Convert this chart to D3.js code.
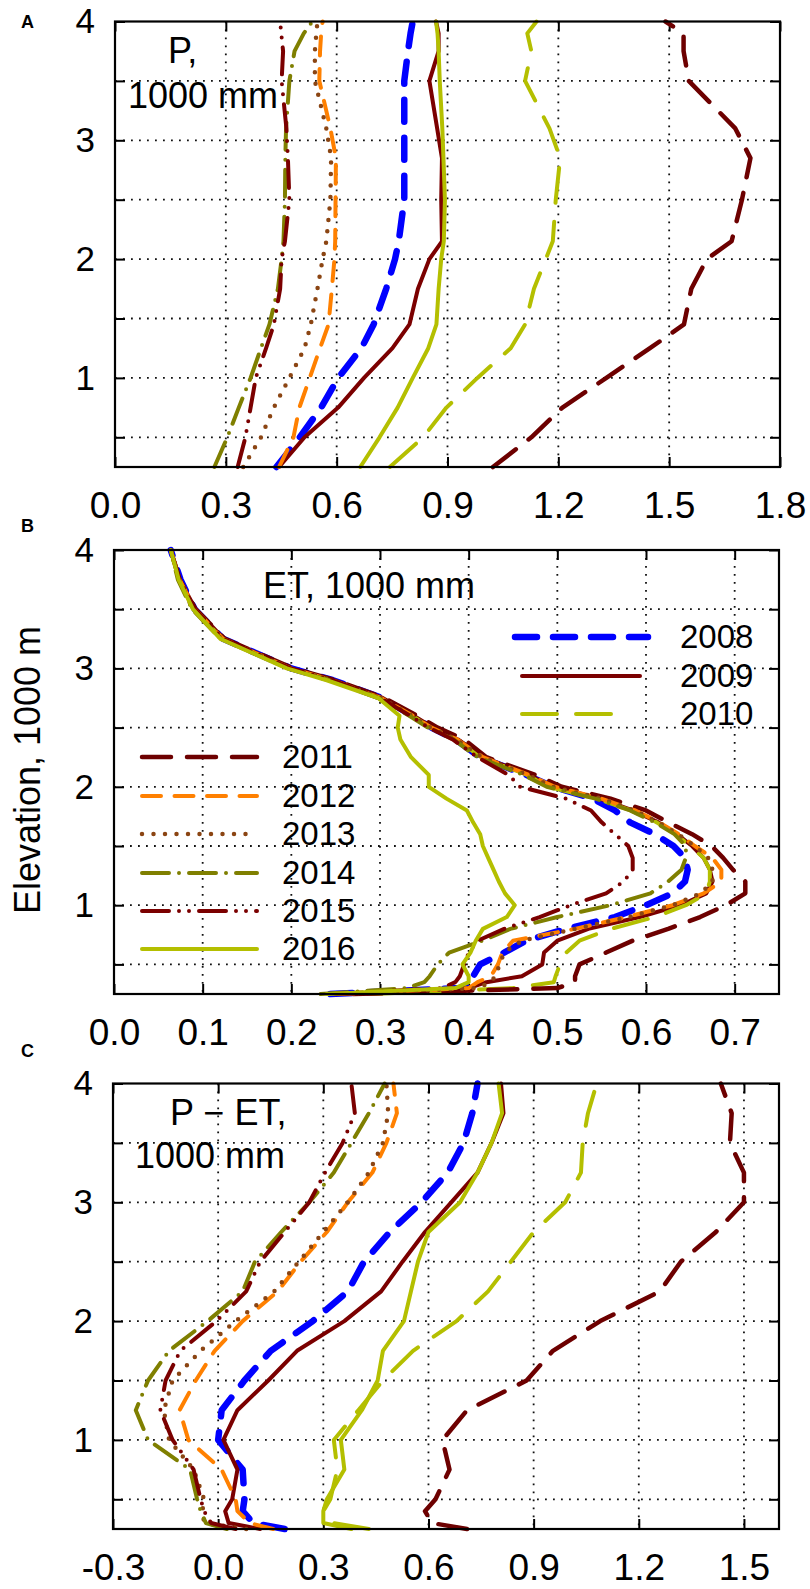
<!DOCTYPE html>
<html>
<head>
<meta charset="utf-8">
<script src="https://cdn.jsdelivr.net/npm/d3@7"></script>
<style>
    body { margin: 0; background: #fff; }
    svg { display: block; }
</style>
</head>
<body>
<div id="chart"></div>
<script>

// ---- data (x in 1000 mm, elevation in 1000 m) ----
const years = ["2008", "2009", "2010", "2011", "2012", "2013", "2014", "2015", "2016"];

// panel A : precipitation
const elevP = [0.25, 0.5, 0.75, 1.0, 1.25, 1.45, 1.75, 2.0, 2.15, 2.5, 2.85, 3.1, 3.5, 3.75, 3.9, 4.0];
const P_2008 = [0.437, 0.500, 0.558, 0.604, 0.667, 0.700, 0.734, 0.758, 0.768, 0.783, 0.783, 0.783, 0.783, 0.793, 0.800, 0.806];
const P_2009 = [0.444, 0.513, 0.604, 0.674, 0.751, 0.797, 0.820, 0.851, 0.885, 0.883, 0.885, 0.872, 0.851, 0.876, 0.876, 0.869];
const P_2010 = [0.744, 0.834, 0.897, 0.981, 1.071, 1.110, 1.134, 1.166, 1.185, 1.193, 1.205, 1.176, 1.110, 1.127, 1.116, 1.141];
const P_2011 = [1.023, 1.127, 1.211, 1.330, 1.448, 1.540, 1.560, 1.602, 1.669, 1.697, 1.720, 1.679, 1.553, 1.539, 1.539, 1.490];
const P_2012 = [0.444, 0.483, 0.499, 0.527, 0.555, 0.578, 0.587, 0.594, 0.596, 0.597, 0.598, 0.583, 0.553, 0.555, 0.558, 0.562];
const P_2013 = [0.347, 0.395, 0.430, 0.472, 0.513, 0.530, 0.548, 0.562, 0.572, 0.583, 0.585, 0.572, 0.541, 0.541, 0.545, 0.548];
const P_2014 = [0.269, 0.304, 0.335, 0.367, 0.395, 0.418, 0.441, 0.451, 0.456, 0.460, 0.461, 0.463, 0.472, 0.486, 0.511, 0.534];
const P_2015 = [0.332, 0.353, 0.367, 0.381, 0.409, 0.430, 0.447, 0.451, 0.460, 0.472, 0.468, 0.464, 0.451, 0.455, 0.450, 0.447];
const P_2016 = [0.664, 0.716, 0.765, 0.806, 0.848, 0.870, 0.876, 0.883, 0.890, 0.893, 0.889, 0.886, 0.879, 0.876, 0.873, 0.869];

// panel B : evapotranspiration
const elevET = [0.25, 0.3, 0.35, 0.4, 0.5, 0.6, 0.7, 0.8, 0.9, 1.0, 1.1, 1.2, 1.3, 1.4, 1.5, 1.6,
                1.7, 1.8, 1.9, 2.0, 2.1, 2.25, 2.4, 2.5, 2.6, 2.75, 2.9, 3.0, 3.25, 3.5, 3.75, 4.0];
const ET_2008 = [0.244, 0.390, 0.405, 0.405, 0.413, 0.440, 0.465, 0.510, 0.565, 0.600, 0.630, 0.644, 0.647, 0.644, 0.631, 0.610,
                 0.582, 0.565, 0.540, 0.495, 0.465, 0.413, 0.385, 0.358, 0.337, 0.302, 0.247, 0.200, 0.123, 0.091, 0.075, 0.064];
const ET_2009 = [0.260, 0.400, 0.420, 0.460, 0.483, 0.485, 0.500, 0.535, 0.593, 0.639, 0.668, 0.675, 0.672, 0.665, 0.652, 0.635,
                 0.614, 0.585, 0.548, 0.495, 0.468, 0.416, 0.388, 0.360, 0.338, 0.303, 0.248, 0.200, 0.124, 0.092, 0.074, 0.064];
const ET_2010 = [0.290, 0.450, 0.496, 0.498, 0.503, 0.510, 0.525, 0.560, 0.610, 0.645, 0.668, 0.672, 0.672, 0.665, 0.650, 0.633,
                 0.612, 0.583, 0.545, 0.490, 0.466, 0.414, 0.386, 0.357, 0.336, 0.300, 0.245, 0.198, 0.122, 0.090, 0.073, 0.064];
const ET_2011 = [0.270, 0.500, 0.520, 0.520, 0.525, 0.555, 0.585, 0.625, 0.661, 0.690, 0.712, 0.712, 0.698, 0.687, 0.674, 0.652,
                 0.625, 0.600, 0.560, 0.505, 0.475, 0.420, 0.395, 0.365, 0.342, 0.305, 0.250, 0.202, 0.125, 0.092, 0.074, 0.064];
const ET_2012 = [0.250, 0.400, 0.410, 0.425, 0.433, 0.438, 0.450, 0.520, 0.578, 0.630, 0.665, 0.685, 0.685, 0.675, 0.655, 0.637,
                 0.615, 0.588, 0.550, 0.497, 0.468, 0.416, 0.387, 0.358, 0.337, 0.301, 0.246, 0.199, 0.123, 0.091, 0.074, 0.064];
const ET_2013 = [0.250, 0.410, 0.425, 0.430, 0.435, 0.440, 0.460, 0.520, 0.580, 0.630, 0.662, 0.675, 0.675, 0.670, 0.655, 0.636,
                 0.614, 0.587, 0.550, 0.495, 0.467, 0.415, 0.386, 0.357, 0.336, 0.301, 0.246, 0.198, 0.121, 0.089, 0.073, 0.064];
const ET_2014 = [0.233, 0.330, 0.350, 0.356, 0.365, 0.378, 0.415, 0.447, 0.500, 0.560, 0.605, 0.625, 0.640, 0.645, 0.645, 0.632,
                 0.610, 0.582, 0.543, 0.488, 0.462, 0.410, 0.383, 0.354, 0.333, 0.298, 0.243, 0.196, 0.120, 0.088, 0.072, 0.064];
const ET_2015 = [0.250, 0.370, 0.385, 0.390, 0.395, 0.400, 0.410, 0.440, 0.480, 0.515, 0.555, 0.575, 0.585, 0.585, 0.580, 0.565,
                 0.550, 0.538, 0.510, 0.458, 0.445, 0.410, 0.382, 0.355, 0.334, 0.300, 0.246, 0.199, 0.123, 0.091, 0.074, 0.064];
const ET_2016 = [0.240, 0.385, 0.400, 0.400, 0.393, 0.402, 0.408, 0.416, 0.443, 0.452, 0.441, 0.434, 0.428, 0.422, 0.416, 0.413,
                 0.405, 0.398, 0.375, 0.355, 0.355, 0.335, 0.323, 0.320, 0.322, 0.298, 0.240, 0.195, 0.120, 0.089, 0.073, 0.064];

// panel C : P - ET
const elevPET = [0.25, 0.3, 0.4, 0.5, 0.75, 1.0, 1.25, 1.5, 1.75, 2.0, 2.25, 2.5, 2.75, 3.0, 3.25, 3.5, 3.75, 4.0];
const PET_2008 = [0.190, 0.100, 0.070, 0.075, 0.070, 0.000, 0.010, 0.075, 0.150, 0.270, 0.370, 0.416, 0.490, 0.580, 0.655, 0.700, 0.725, 0.740];
const PET_2009 = [0.120, 0.030, 0.020, 0.040, 0.055, 0.015, 0.055, 0.143, 0.225, 0.360, 0.465, 0.526, 0.590, 0.665, 0.740, 0.780, 0.814, 0.807];
const PET_2010 = [0.430, 0.330, 0.300, 0.320, 0.340, 0.330, 0.400, 0.470, 0.556, 0.680, 0.770, 0.835, 0.900, 0.990, 1.035, 1.040, 1.055, 1.080];
const PET_2011 = [0.710, 0.610, 0.590, 0.620, 0.660, 0.640, 0.710, 0.880, 0.955, 1.090, 1.260, 1.320, 1.420, 1.500, 1.500, 1.460, 1.465, 1.434];
const PET_2012 = [0.157, 0.090, 0.055, 0.050, 0.010, -0.085, -0.110, -0.064, -0.010, 0.070, 0.170, 0.235, 0.310, 0.370, 0.440, 0.480, 0.510, 0.500];
const PET_2013 = [0.080, -0.040, -0.045, -0.040, -0.070, -0.140, -0.155, -0.130, -0.050, 0.050, 0.160, 0.230, 0.300, 0.370, 0.430, 0.470, 0.485, 0.480];
const PET_2014 = [0.025, -0.035, -0.050, -0.060, -0.080, -0.200, -0.235, -0.200, -0.140, -0.030, 0.070, 0.105, 0.180, 0.260, 0.330, 0.380, 0.430, 0.475];
const PET_2015 = [0.050, -0.020, -0.040, -0.050, -0.070, -0.130, -0.165, -0.150, -0.108, -0.005, 0.080, 0.120, 0.190, 0.260, 0.305, 0.355, 0.390, 0.380];
const PET_2016 = [0.380, 0.300, 0.300, 0.310, 0.360, 0.350, 0.410, 0.455, 0.470, 0.530, 0.550, 0.570, 0.600, 0.690, 0.740, 0.780, 0.810, 0.800];

// ticks
const xTicksP = [0.0, 0.3, 0.6, 0.9, 1.2, 1.5, 1.8];
const xTicksET = [0.0, 0.1, 0.2, 0.3, 0.4, 0.5, 0.6, 0.7];
const xTicksPET = [-0.3, 0.0, 0.3, 0.6, 0.9, 1.2, 1.5];
const elevTicks = [0.5, 1, 1.5, 2, 2.5, 3, 3.5, 4];


/* * * * * * * * * * * * * *
*      styles / layout      *
* * * * * * * * * * * * * */

const FONT = "'Liberation Sans', Arial, Helvetica, sans-serif";

// line look per year (dash arrays are with round caps)
const styles = {
    "2008": {color: "#0000ff", width: 6.5, dash: "22,16"},
    "2009": {color: "#7b0000", width: 4,   dash: null},
    "2010": {color: "#b4bf00", width: 4,   dash: "35,19"},
    "2011": {color: "#6d0000", width: 4.5, dash: "29,16"},
    "2012": {color: "#ff8000", width: 4,   dash: "19,13.5"},
    "2013": {color: "#8b4513", width: 4.5, dash: "0,11.5"},
    "2014": {color: "#7f7f00", width: 4,   dash: "27,10,0,10"},
    "2015": {color: "#7b0000", width: 4,   dash: "27,10,0,10,0,10"},
    "2016": {color: "#b4bf00", width: 4,   dash: null}
};

let svg = d3.select("#chart").append("svg")
    .attr("width", 810)
    .attr("height", 1589)
    .attr("font-family", FONT);


class PanelVis {
    constructor(svg, cfg) {
        this.svg = svg;
        Object.assign(this, cfg);
        this.initVis();
    }

    initVis() {
        let vis = this;

        vis.g = vis.svg.append("g");

        // Scales
        vis.x = d3.scaleLinear().domain(vis.xDomain).range([vis.left, vis.right]);
        vis.y = d3.scaleLinear().domain([0.25, 4]).range([vis.bottom, vis.top]);

        // dotted grid
        let grid = vis.g.append("g")
            .attr("stroke", "#111")
            .attr("stroke-width", 1.8)
            .attr("stroke-dasharray", "1.8,6.2");

        grid.selectAll(".hgrid")
            .data(elevTicks.filter(d => d < 4))
            .join("line")
            .attr("class", "hgrid")
            .attr("x1", vis.left)
            .attr("x2", vis.right)
            .attr("y1", d => vis.y(d))
            .attr("y2", d => vis.y(d));

        grid.selectAll(".vgrid")
            .data(vis.xTicks.filter(d => d > vis.xDomain[0] + 1e-9 && d < vis.xDomain[1] - 1e-9))
            .join("line")
            .attr("class", "vgrid")
            .attr("x1", d => vis.x(d))
            .attr("x2", d => vis.x(d))
            .attr("y1", vis.top)
            .attr("y2", vis.bottom);

        // axes (inner ticks on all four sides)
        let fmt = d => d.toFixed(1);

        vis.g.append("g")
            .attr("transform", `translate(0, ${vis.bottom})`)
            .call(d3.axisBottom(vis.x).tickValues(vis.xTicks).tickFormat(fmt).tickSize(-10).tickPadding(25))
            .call(styleAxis)
            .attr("font-size", 37);

        vis.g.append("g")
            .attr("transform", `translate(0, ${vis.top})`)
            .call(d3.axisTop(vis.x).tickValues(vis.xTicks).tickFormat("").tickSize(-10))
            .call(styleAxis);

        vis.g.append("g")
            .attr("transform", `translate(${vis.left}, 0)`)
            .call(d3.axisLeft(vis.y).tickValues(elevTicks)
                .tickFormat(d => Number.isInteger(d) ? d : "").tickSize(-10).tickPadding(20))
            .call(styleAxis);

        vis.g.append("g")
            .attr("transform", `translate(${vis.right}, 0)`)
            .call(d3.axisRight(vis.y).tickValues(elevTicks).tickFormat("").tickSize(-10))
            .call(styleAxis);

        // curves
        vis.line = d3.line()
            .x(d => vis.x(d[1]))
            .y(d => vis.y(d[0]));

        vis.series.forEach((vals, i) => {
            let st = styles[years[i]];
            let pts = vis.elev.map((e, j) => [e, vals[j]]);
            vis.g.append("path")
                .datum(pts)
                .attr("d", vis.line)
                .attr("fill", "none")
                .attr("stroke", st.color)
                .attr("stroke-width", st.width)
                .attr("stroke-linecap", "round")
                .attr("stroke-linejoin", "round")
                .attr("stroke-dasharray", st.dash);
        });

        // frame
        vis.g.append("rect")
            .attr("x", vis.left)
            .attr("y", vis.top)
            .attr("width", vis.right - vis.left)
            .attr("height", vis.bottom - vis.top)
            .attr("fill", "none")
            .attr("stroke", "#000")
            .attr("stroke-width", 2.2);

        // panel letter
        vis.svg.append("text")
            .attr("x", 21)
            .attr("y", vis.letterY)
            .attr("font-size", 18)
            .attr("font-weight", "bold")
            .text(vis.letter);

        // in-plot title
        vis.title.forEach(t => {
            vis.svg.append("text")
                .attr("x", t.x)
                .attr("y", t.y)
                .attr("font-size", 36)
                .text(t.text);
        });
    }
}

function styleAxis(g) {
    g.select(".domain").remove();
    g.attr("font-family", FONT).attr("font-size", 35);
    g.selectAll(".tick line").attr("stroke", "#000").attr("stroke-width", 2);
    g.selectAll(".tick text").attr("fill", "#000");
}


new PanelVis(svg, {
    letter: "A", letterY: 28,
    left: 115, right: 780, top: 21.5, bottom: 467,
    xDomain: [0, 1.8], xTicks: xTicksP,
    elev: elevP,
    series: [P_2008, P_2009, P_2010, P_2011, P_2012, P_2013, P_2014, P_2015, P_2016],
    title: [{text: "P,", x: 168, y: 63}, {text: "1000 mm", x: 128, y: 108}]
});

new PanelVis(svg, {
    letter: "B", letterY: 532,
    left: 114, right: 779, top: 550, bottom: 994,
    xDomain: [0, 0.75], xTicks: xTicksET,
    elev: elevET,
    series: [ET_2008, ET_2009, ET_2010, ET_2011, ET_2012, ET_2013, ET_2014, ET_2015, ET_2016],
    title: [{text: "ET, 1000 mm", x: 263, y: 598}]
});

new PanelVis(svg, {
    letter: "C", letterY: 1057,
    left: 113, right: 779, top: 1083.5, bottom: 1529,
    xDomain: [-0.3, 1.6], xTicks: xTicksPET,
    elev: elevPET,
    series: [PET_2008, PET_2009, PET_2010, PET_2011, PET_2012, PET_2013, PET_2014, PET_2015, PET_2016],
    title: [{text: "P \u2212 ET,", x: 170, y: 1125}, {text: "1000 mm", x: 135, y: 1168}]
});

// y axis title (shared, sits beside panel B)
svg.append("text")
    .attr("transform", "translate(40, 770) rotate(-90)")
    .attr("text-anchor", "middle")
    .attr("font-size", 36)
    .text("Elevation, 1000 m");

// legends in panel B
let legendRows = [
    {year: "2008", x1: 515, x2: 648, y: 637, tx: 680},
    {year: "2009", x1: 522, x2: 640, y: 676, tx: 680},
    {year: "2010", x1: 522, x2: 628, y: 714, tx: 680},
    {year: "2011", x1: 142, x2: 257, y: 757, tx: 282},
    {year: "2012", x1: 142, x2: 257, y: 796, tx: 282},
    {year: "2013", x1: 142, x2: 257, y: 834, tx: 282},
    {year: "2014", x1: 142, x2: 257, y: 873, tx: 282},
    {year: "2015", x1: 142, x2: 257, y: 911, tx: 282},
    {year: "2016", x1: 142, x2: 257, y: 949, tx: 282}
];

let legend = svg.append("g");

legend.selectAll(".leg-line")
    .data(legendRows)
    .join("line")
    .attr("class", "leg-line")
    .attr("x1", d => d.x1)
    .attr("x2", d => d.x2)
    .attr("y1", d => d.y)
    .attr("y2", d => d.y)
    .attr("stroke", d => styles[d.year].color)
    .attr("stroke-width", d => styles[d.year].width)
    .attr("stroke-linecap", "round")
    .attr("stroke-dasharray", d => styles[d.year].dash);

legend.selectAll(".leg-text")
    .data(legendRows)
    .join("text")
    .attr("class", "leg-text")
    .attr("x", d => d.tx)
    .attr("y", d => d.y + 11)
    .attr("font-size", 33)
    .text(d => d.year);

</script>
</body>
</html>
